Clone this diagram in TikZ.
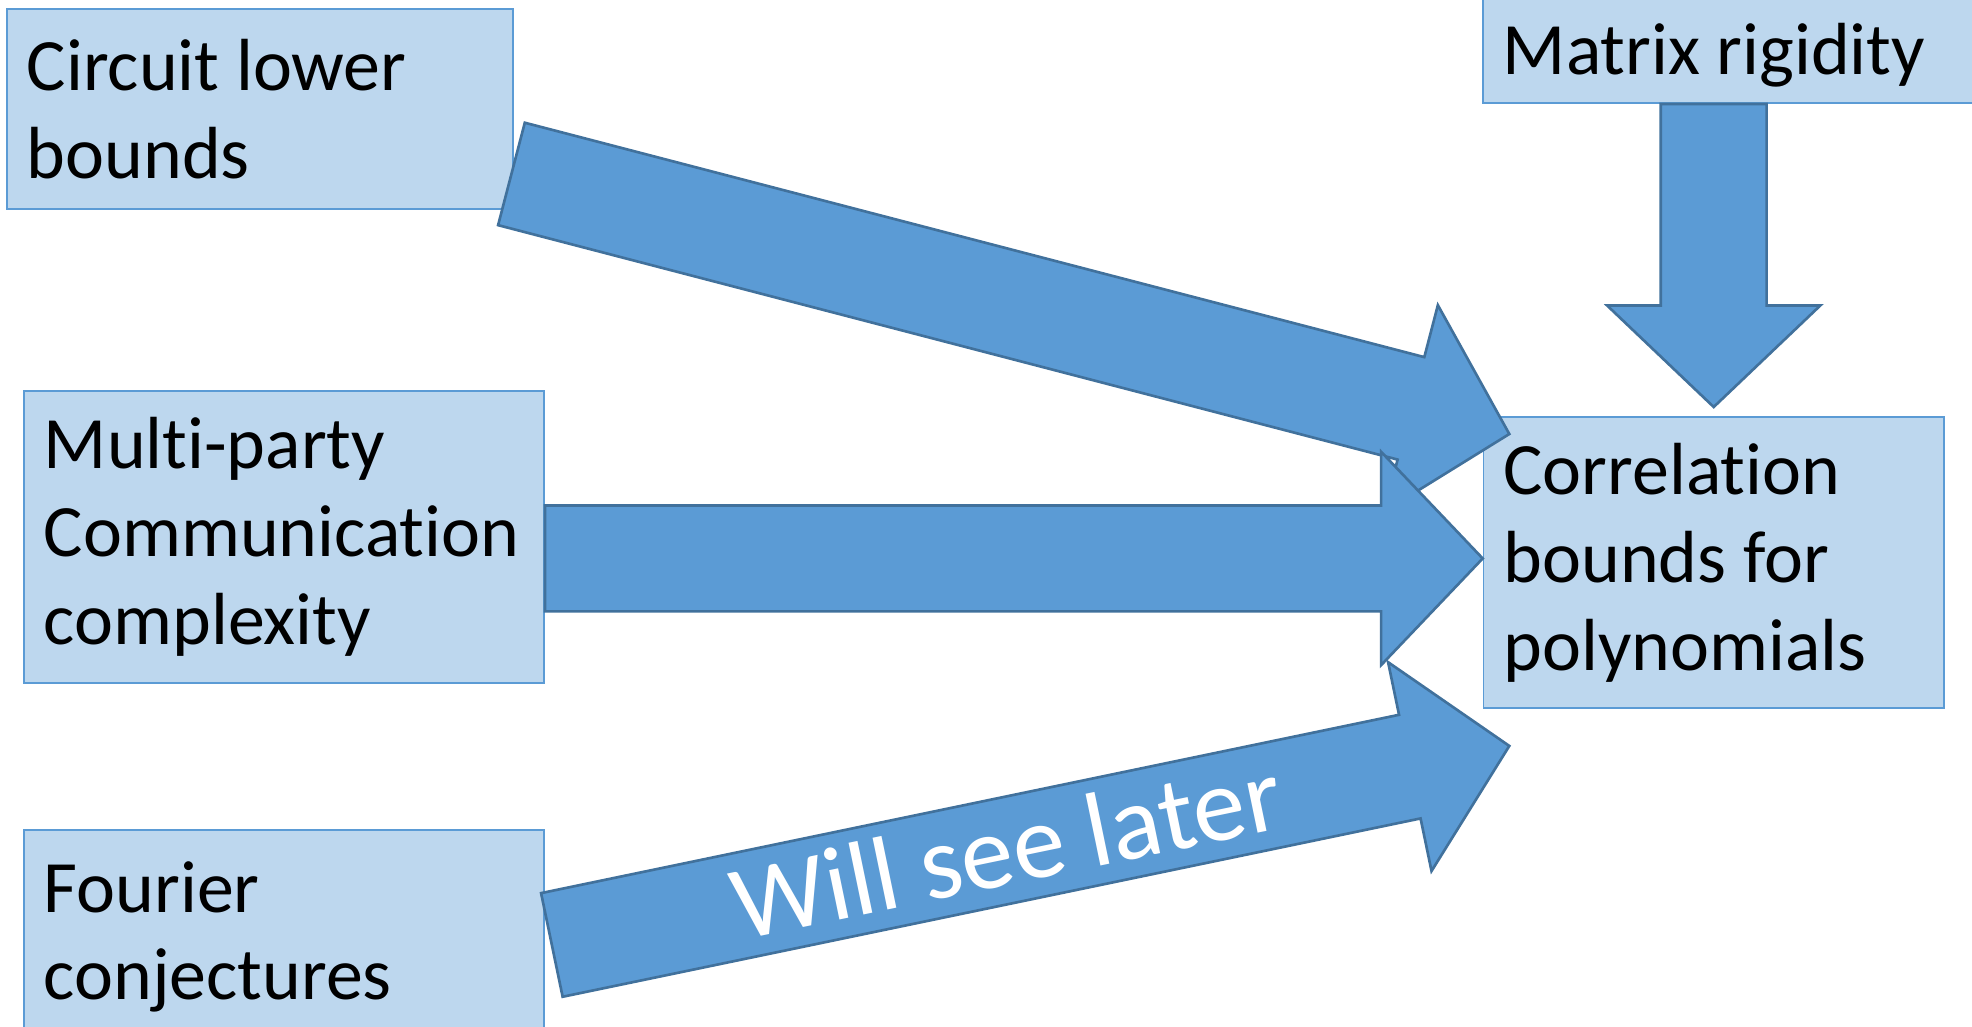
\documentclass[tikz,border=0pt]{standalone}
\usepackage{fontspec}
\setmainfont{Carlito}[Ligatures=NoCommon]
\usepackage{tikz}
\usetikzlibrary{calc,positioning}
\definecolor{kastenblau}{HTML}{BDD7EE}
\definecolor{kastenrand}{HTML}{5B9BD5}
\definecolor{pfeilblau}{HTML}{5B9BD5}
\definecolor{pfeilrand}{HTML}{41719C}
\tikzset{
  kasten/.style={rectangle, draw=kastenrand, fill=kastenblau, line width=0.5pt, anchor=north west,
    align=left, inner xsep=0.2cm, inner ysep=0pt, font={\fontsize{21}{25}\selectfont\hyphenpenalty=10000\relax},
    execute at begin node={\spaceskip=0pt\relax\xspaceskip=0pt\relax}},
  pfeil/.style={draw=pfeilrand, fill=pfeilblau, line width=0.75pt, line join=miter},
  spaet/.style={text=white, font=\fontsize{30}{34}\selectfont, inner sep=0pt}
}
%Blockpfeil von #1 (Mitte hinten) nach #2 (Spitze)
\newcommand{\blockpfeil}[2]{%
  \draw[pfeil] let \p1=(#1), \p2=(#2), \n1={atan2(\y2-\y1,\x2-\x1)}, \n2={veclen(\x2-\x1,\y2-\y1)} in
    ($(\p1)+(\n1+90:\schaft pt)$) -- ++(\n1:\n2-\kopf pt) -- ++(\n1+90:\kopfbreite pt-\schaft pt) -- (\p2)
    -- ($(\p1)+(\n1:\n2-\kopf pt)+(\n1-90:\kopfbreite pt)$) -- ++(\n1+90:\kopfbreite pt-\schaft pt)
    -- ($(\p1)+(\n1-90:\schaft pt)$) -- cycle;
}
\begin{document}
\begin{tikzpicture}[x=0.01cm,y=-0.01cm]
%Alles in Pixeln der Vorlage: 1 Pixel = 0.01cm = 0.284528pt
  \pgfmathsetmacro{\px}{0.284528}
  \pgfmathsetmacro{\schaft}{52.9*\px}
  \pgfmathsetmacro{\kopfbreite}{106.6*\px}
  \pgfmathsetmacro{\kopf}{101.5*\px}
\useasboundingbox (0,0) rectangle (1972,1027);
\node[kasten, minimum width=5.06cm, minimum height=2.00cm, text width=4.66cm] (circuit) at (6,8) {Circuit lower\\bounds};
\node[kasten, anchor=south west, text width=4.68cm, text height=1cm, text depth=0.29cm] (matrix) at (1482,104) {Matrix rigidity};
\node[kasten, minimum width=5.20cm, minimum height=2.92cm, text width=4.80cm] (multi) at (23,390) {Multi-party\\Communication\\complexity};
\node[kasten, minimum width=5.20cm, minimum height=2.14cm, text width=4.80cm] (fourier) at (23,829) {Fourier\\conjectures};
\node[kasten, minimum width=4.60cm, minimum height=2.91cm, text width=4.20cm] (corr) at (1482.7,416) {Correlation\\bounds for\\polynomials};
%Enden der Pfeile
\coordinate (p1a) at ($(circuit.east)+(-2.6,65)$);
\coordinate (p1b) at ($(corr.north west)+(26.6,18)$);
\coordinate (p2b) at ($(corr.west)+(0,-4)$);
\coordinate (p2a) at (multi.east |- p2b);
\coordinate (p3a) at ($(fourier.east)+(6.8,8)$);
\coordinate (p3b) at ($(corr.south west)+(26.6,37)$);
\coordinate (p4a) at (corr.north |- matrix.south);
\coordinate (p4b) at ($(corr.north)+(0,-9)$);
\blockpfeil{p1a}{p1b}
\blockpfeil{p2a}{p2b}
\blockpfeil{p3a}{p3b}
\blockpfeil{p4a}{p4b}
\node[spaet, rotate=11.7, anchor=base] (spaeter) at (1014,884) {Will see later};
\end{tikzpicture}
\end{document}
